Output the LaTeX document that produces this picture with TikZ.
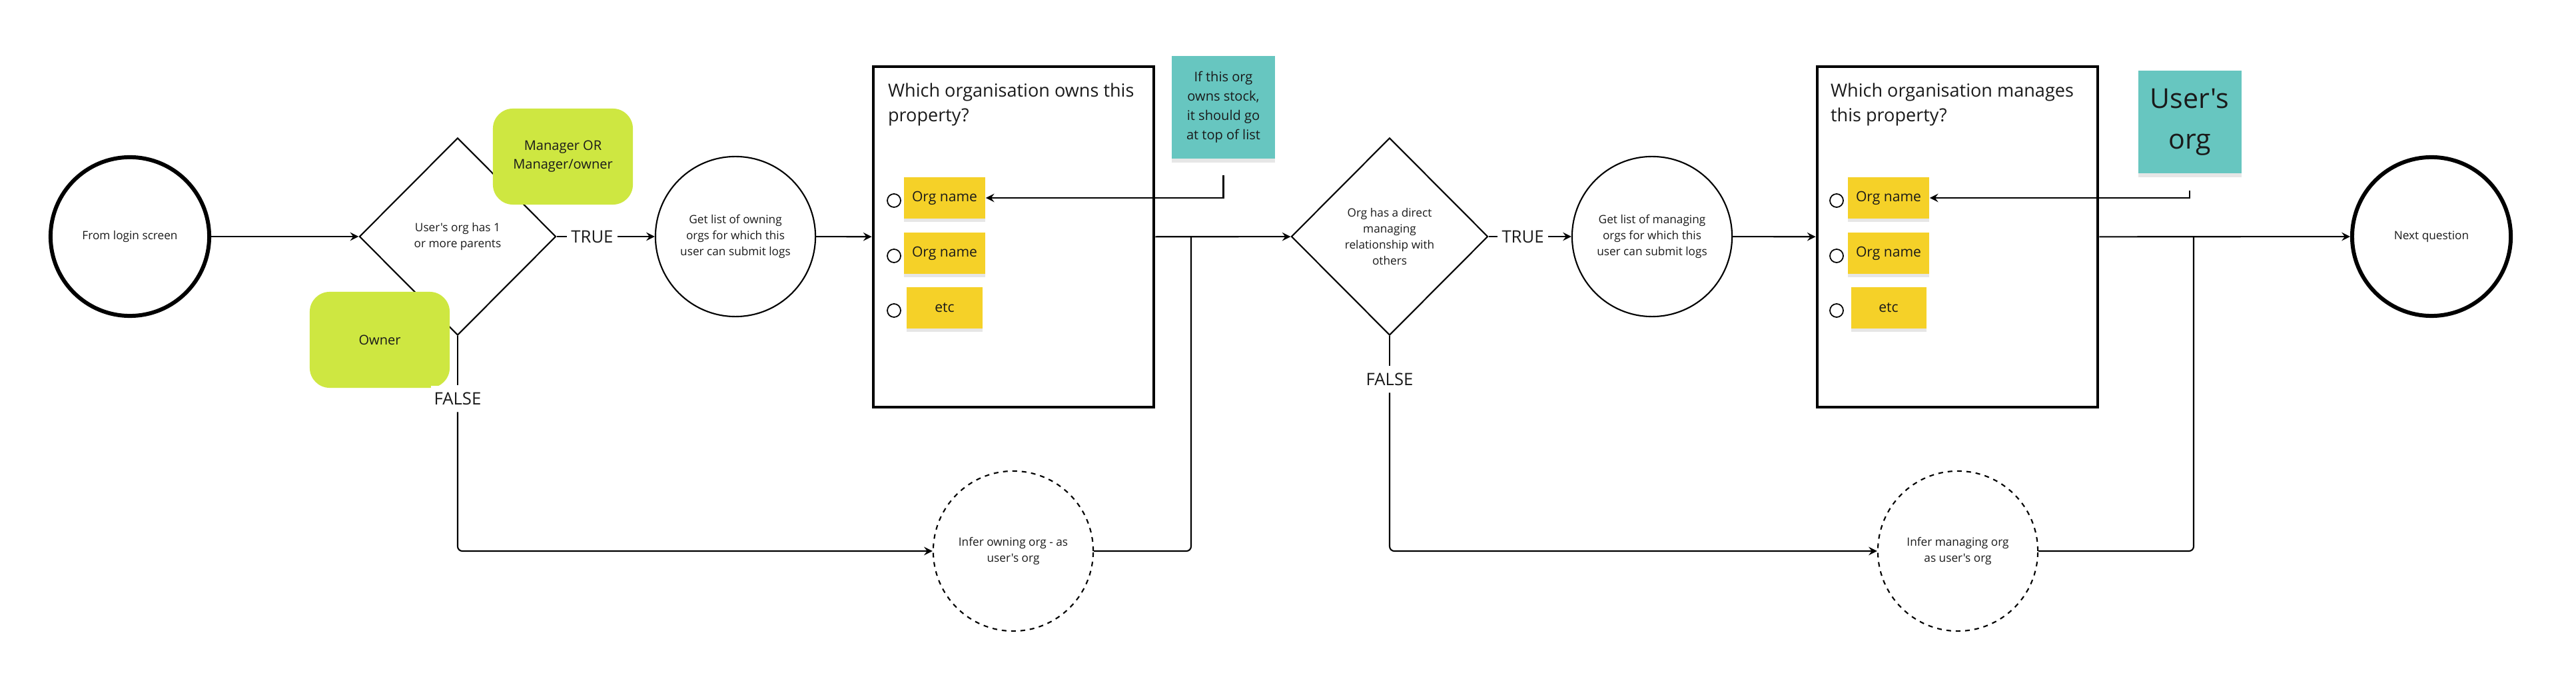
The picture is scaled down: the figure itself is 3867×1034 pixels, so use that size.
\documentclass[tikz,border=0pt]{standalone}
\usepackage{fontspec}
\setmainfont{Open Sans}[Ligatures=TeXOff]
\usetikzlibrary{shapes.geometric,shadows}
\definecolor{lime}{HTML}{CEE741}
\definecolor{tealnote}{HTML}{67C6C0}
\definecolor{sticky}{HTML}{F5D128}
\definecolor{ink}{HTML}{1A1A1A}
\begin{document}
\begin{tikzpicture}[x=0.01cm, y=-0.01cm, >=stealth, line width=0.6pt,
  smalltxt/.style={font=\fontsize{4.9}{6.8}\selectfont, align=center, text=ink},
  endpt/.style={circle, draw, line width=1.7pt, minimum size=2.38cm, smalltxt},
  proc/.style={circle, draw, minimum size=2.4cm, smalltxt},
  infer/.style={proc, dash pattern=on 2pt off 2pt},
  decide/.style={diamond, draw, minimum width=2.95cm, minimum height=2.96cm, inner sep=0pt, smalltxt},
  lbl/.style={fill=white, inner xsep=0.05cm, inner ysep=0.1cm, font=\fontsize{7.3}{8}\selectfont, text=ink},
  qbox/.style={draw, line width=1.3pt, minimum width=4.21cm, minimum height=5.11cm},
  qtitle/.style={anchor=north west, inner sep=0pt, align=left, font=\fontsize{7.7}{10.5}\selectfont, text=ink},
  choice/.style={fill=sticky, minimum width=1.13cm, minimum height=0.62cm, font=\fontsize{6}{7}\selectfont, text=ink,
    drop shadow={shadow xshift=0cm, shadow yshift=-0.05cm, opacity=0.2}},
  radio/.style={circle, draw, line width=0.5pt, minimum size=0.2cm, inner sep=0pt},
  role/.style={fill=lime, rounded corners=0.3cm, minimum width=2.1cm, minimum height=1.44cm, align=center,
    font=\fontsize{5.7}{8}\selectfont, text=ink},
  note/.style={fill=tealnote, minimum width=1.55cm, minimum height=1.54cm, align=center, text=ink,
    drop shadow={shadow xshift=0cm, shadow yshift=-0.06cm, opacity=0.2}}]
\useasboundingbox (0,0) rectangle (3867,1034);

\node[endpt] (login) at (195,355) {From login screen};
\node[decide] (parents) at (687,355) {User's org has 1\\or more parents};
\node[role] (mgr) at (845,235) {Manager OR\\Manager/owner};
\node[role] (owner) at (570,510) {Owner};
\node[lbl] (t1) at (889,355) {TRUE};
\node[lbl] (f1) at (687,598) {FALSE};
\node[proc] (getown) at (1104,355) {Get list of owning\\orgs for which this\\user can submit logs};
\node[qbox] (ownq) at (1521.5,355.5) {};
\node[qtitle] at (1332,124) {Which organisation owns this\\property?};
\foreach \y/\t [count=\i] in {297/Org name,380/Org name,462/etc}
{
    \node[radio] (ro\i) at (1342,\y+4) {};
    \node[choice] (o\i) at (1418,\y) {\t};
}
\node[note, font=\fontsize{5.7}{8.25}\selectfont] (tip) at (1836.5,161) {If this org\\owns stock,\\it should go\\at top of list};
\node[infer] (inferown) at (1521,827) {Infer owning org - as\\user's org};
\coordinate (j1) at (1788,355);

\node[decide] (direct) at (2086,355) {Org has a direct\\managing\\relationship with\\others};
\node[lbl] (t2) at (2286,355) {TRUE};
\node[lbl] (f2) at (2086,569) {FALSE};
\node[proc] (getman) at (2480,355) {Get list of managing\\orgs for which this\\user can submit logs};
\node[qbox] (manq) at (2938.5,355.5) {};
\node[qtitle] at (2747,124) {Which organisation manages\\this property?};
\foreach \y/\t [count=\i] in {297/Org name,380/Org name,462/etc}
{
    \node[radio] (rm\i) at (2757,\y+4) {};
    \node[choice] (m\i) at (2835,\y) {\t};
}
\node[note, font=\fontsize{11.7}{17.4}\selectfont] (usr) at (3287,183) {User's\\org};
\node[infer] (inferman) at (2939,827) {Infer managing org\\as user's org};
\coordinate (j2) at (3293,355);
\node[endpt] (nextq) at (3650,355) {Next question};

\draw[->] (login) -- (parents);
\draw (parents.east) -- (t1);
\draw[->] (t1) -- (getown);
\draw[->] (getown) -- (ownq);
\draw (parents.south) -- (f1);
\draw[->, rounded corners=2pt] (f1) |- (inferown);
\draw[rounded corners=2pt] (inferown) -| (j1);
\draw[->] (ownq) -- (direct);
\draw[->, shorten <=0.24cm] (tip) |- (o1.east);

\draw (direct.east) -- (t2);
\draw[->] (t2) -- (getman);
\draw[->] (getman) -- (manq);
\draw (direct.south) -- (f2);
\draw[->, rounded corners=2pt] (f2) |- (inferman);
\draw[rounded corners=2pt] (inferman) -| (j2);
\draw[->] (manq) -- (nextq);
\draw[->, shorten <=0.25cm] (usr) |- (m1.east);

 \end{tikzpicture}
\end{document}
